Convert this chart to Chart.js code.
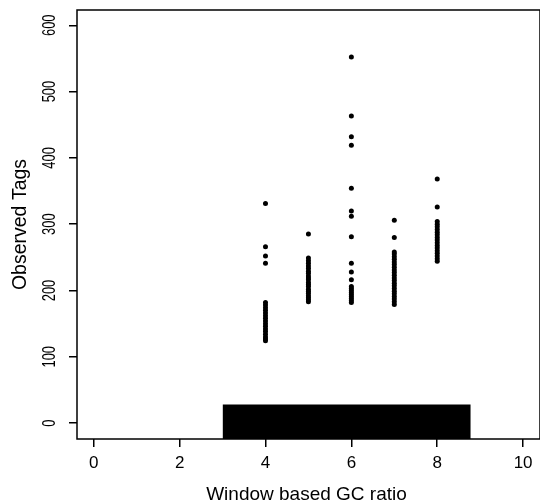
<!DOCTYPE html>
<html>
<head>
<meta charset="utf-8">
<script src="https://cdn.jsdelivr.net/npm/chart.js@4.4.1/dist/chart.umd.min.js"></script>
<style>
  html, body { margin: 0; padding: 0; background: #fff; overflow: hidden; }
  #wrap { width: 540px; height: 504px; }
</style>
</head>
<body>
<div id="wrap"><canvas id="gc"></canvas></div>
<script>
// observed tag counts per window GC ratio
const gcValues = [4, 5, 6, 7, 8];
const tags4 = [124, 127, 130, 134, 138, 142, 146, 150, 154, 158, 162, 166, 170, 174, 178, 182, 241, 252, 266, 331];
const tags5 = [183, 186, 189, 192, 196, 199, 202, 206, 209, 212, 216, 219, 222, 226, 229, 233, 237, 241, 245, 249, 285];
const tags6 = [182, 185, 188, 191, 194, 197, 200, 203, 206, 216, 228, 241, 281, 312, 320, 354, 419, 432, 463, 552];
const tags7 = [179, 183, 187, 191, 195, 199, 203, 207, 211, 215, 219, 223, 227, 231, 235, 239, 243, 247, 251, 255, 258, 280, 306];
const tags8 = [244, 248, 252, 256, 260, 264, 268, 272, 276, 280, 284, 288, 292, 296, 300, 304, 326, 368];

// rug of all windows along the bottom (thousands of ticks, drawn as their extent)
const rugX = [3.0, 8.78];
const rugTop = 28;
const rugBottom = -24;

const xTicks = [0, 2, 4, 6, 8, 10];
const yTicks = [0, 100, 200, 300, 400, 500, 600];

const seriesByGc = [tags4, tags5, tags6, tags7, tags8];
const points = [];
seriesByGc.forEach((vals, i) => {
  vals.forEach(v => points.push({ x: gcValues[i], y: v }));
});

const FONT = "'Liberation Sans', Arial, sans-serif";

const frame = {
  id: 'frame',
  afterDatasetsDraw(chart) {
    const a = chart.chartArea;
    const ctx = chart.ctx;
    ctx.save();
    ctx.strokeStyle = '#000';
    ctx.lineWidth = 1.5;
    ctx.strokeRect(a.left, a.top, a.right - a.left + 4, a.bottom - a.top);
    ctx.restore();
  }
};

// R style y labels, turned parallel to the axis
const yLabels = {
  id: 'yLabels',
  afterDraw(chart) {
    const sc = chart.scales.y;
    const ctx = chart.ctx;
    ctx.save();
    ctx.fillStyle = '#000';
    ctx.font = '19px ' + FONT;
    ctx.textAlign = 'center';
    ctx.textBaseline = 'middle';
    yTicks.forEach(v => {
      const py = sc.getPixelForValue(v);
      ctx.save();
      ctx.translate(50, py);
      ctx.rotate(-Math.PI / 2);
      ctx.scale(0.68, 1);
      ctx.fillText(String(v), 0, 0);
      ctx.restore();
    });
    ctx.restore();
  }
};

new Chart(document.getElementById('gc'), {
  type: 'scatter',
  data: {
    datasets: [
      {
        type: 'line',
        data: rugX.map(x => ({ x: x, y: rugTop })),
        borderWidth: 0,
        pointRadius: 0,
        backgroundColor: '#000',
        fill: { value: rugBottom }
      },
      {
        data: points,
        pointRadius: 2.5,
        pointBackgroundColor: '#000',
        pointBorderWidth: 0
      }
    ]
  },
  options: {
    responsive: true,
    maintainAspectRatio: false,
    animation: false,
    layout: { padding: { top: 10, right: 0, left: 0, bottom: 0 } },
    plugins: { legend: { display: false }, tooltip: { enabled: false } },
    scales: {
      x: {
        type: 'linear',
        min: -0.39,
        max: 10.3,
        afterBuildTicks: s => { s.ticks = xTicks.map(v => ({ value: v })); },
        afterFit: s => { s.height = 65; },
        border: { display: false },
        grid: { drawOnChartArea: false, tickLength: 8, color: '#000', lineWidth: 1.5 },
        ticks: { color: '#000', padding: 6, font: { family: FONT, size: 17 } },
        title: {
          display: true,
          text: 'Window based GC ratio',
          color: '#000',
          font: { family: FONT, size: 19, lineHeight: 1.0 },
          padding: { top: 0, bottom: 0 }
        }
      },
      y: {
        type: 'linear',
        min: -24,
        max: 623,
        afterBuildTicks: s => { s.ticks = yTicks.map(v => ({ value: v })); },
        afterFit: s => { s.width = 77; },
        border: { display: false },
        grid: { drawOnChartArea: false, tickLength: 8, color: '#000', lineWidth: 1.5 },
        ticks: { display: false },
        title: {
          display: true,
          text: 'Observed Tags',
          color: '#000',
          font: { family: FONT, size: 19.5 },
          padding: { top: 9, bottom: 0 }
        }
      }
    }
  },
  plugins: [frame, yLabels]
});
</script>
</body>
</html>
